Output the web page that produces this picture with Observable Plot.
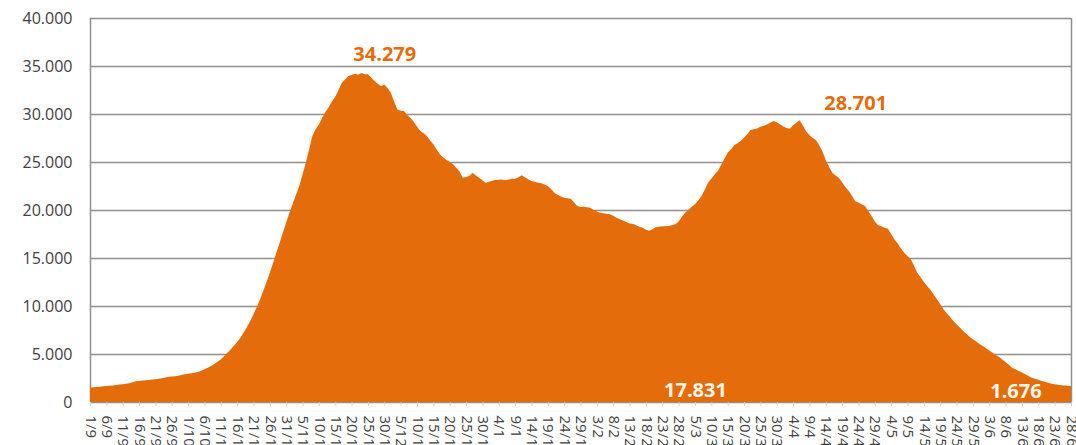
<!DOCTYPE html>
<html>
<head>
<meta charset="utf-8">
<script src="https://cdn.jsdelivr.net/npm/d3@7"></script>
<script src="https://cdn.jsdelivr.net/npm/@observablehq/plot@0.6"></script>
<style>
  html, body { margin: 0; padding: 0; background: #ffffff; }
  #chart svg { display: block; }
</style>
</head>
<body>
<div id="chart"></div>
<script>
// Daily values, 1/9 .. 28/6 (one value per day)
const values = [
  1490, 1530, 1570, 1600, 1630, 1660, 1700, 1730, 1770, 1810,
  1850, 1900, 1960, 2050, 2150, 2200, 2240, 2270, 2300, 2340,
  2370, 2420, 2480, 2560, 2620, 2650, 2680, 2730, 2800, 2880,
  2950, 2990, 3040, 3120, 3250, 3400, 3560, 3740, 3960, 4200,
  4440, 4780, 5120, 5480, 5850, 6250, 6700, 7250, 7800, 8440,
  9150, 9900, 10690, 11600, 12500, 13470, 14500, 15550, 16600, 17650,
  18700, 19720, 20650, 21600, 22500, 23700, 24930, 26300, 27700, 28400,
  28900, 29600, 30200, 30700, 31300, 31800, 32500, 33260, 33600, 33960,
  34050, 34200, 34100, 34279, 34150, 34130, 33800, 33440, 33150, 32900,
  33080, 32700, 32220, 31300, 30480, 30350, 30300, 29900, 29620, 29200,
  28700, 28230, 28000, 27700, 27250, 26840, 26300, 25800, 25500, 25200,
  25000, 24800, 24410, 24000, 23370, 23450, 23540, 23890, 23600, 23370,
  23100, 22850, 22950, 23050, 23120, 23150, 23190, 23100, 23190, 23250,
  23260, 23400, 23610, 23400, 23200, 23020, 22950, 22850, 22780, 22650,
  22500, 22200, 21800, 21600, 21400, 21280, 21230, 21180, 20800, 20420,
  20300, 20350, 20280, 20240, 20000, 19850, 19720, 19650, 19600, 19550,
  19400, 19200, 19030, 18900, 18750, 18600, 18580, 18400, 18250, 18160,
  17950, 17831, 18000, 18200, 18260, 18300, 18320, 18330, 18400, 18510,
  18800, 19300, 19720, 20000, 20350, 20590, 21000, 21460, 22100, 22850,
  23250, 23700, 24060, 24700, 25350, 25970, 26300, 26740, 26950, 27200,
  27530, 27900, 28330, 28400, 28500, 28680, 28750, 28900, 29100, 29270,
  29150, 28920, 28700, 28550, 28470, 28820, 29100, 29340, 28800, 28200,
  27800, 27500, 27300, 26740, 26100, 25200, 24500, 23890, 23600, 23370,
  22900, 22400, 22000, 21500, 20900, 20770, 20600, 20420, 19900, 19370,
  18800, 18400, 18300, 18150, 18050, 17500, 16940, 16500, 16000, 15550,
  15200, 14860, 14200, 13470, 13000, 12500, 12080, 11700, 11210, 10700,
  10200, 9650, 9250, 8850, 8440, 8100, 7750, 7400, 7100, 6800,
  6530, 6300, 6050, 5830, 5600, 5370, 5140, 4900, 4680, 4440,
  4150, 3870, 3580, 3400, 3230, 3060, 2880, 2700, 2530, 2420,
  2310, 2190, 2100, 2000, 1910, 1860, 1800, 1740, 1710, 1690,
  1676
];

// Category tick labels (every 5th day)
const tickLabels = [
  "1/9","6/9","11/9","16/9","21/9","26/9","1/10","6/10","11/10","16/10",
  "21/10","26/10","31/10","5/11","10/11","15/11","20/11","25/11","30/11","5/12",
  "10/12","15/12","20/12","25/12","30/12","4/1","9/1","14/1","19/1","24/1",
  "29/1","3/2","8/2","13/2","18/2","23/2","28/2","5/3","10/3","15/3",
  "20/3","25/3","30/3","4/4","9/4","14/4","19/4","24/4","29/4","4/5",
  "9/5","14/5","19/5","24/5","29/5","3/6","8/6","13/6","18/6","23/6",
  "28/6"
];
const tickStep = 5;

// Value axis ticks
const yTicks = [0, 5000, 10000, 15000, 20000, 25000, 30000, 35000, 40000];

// Annotation texts
const annTexts = ["34.279", "28.701", "17.831", "1.676"];

// ---- build ----
const rows = values.map((v, i) => ({i, v}));
const tickPos = tickLabels.map((_, k) => k * tickStep);
const fmtY = d => d3.format(",")(d).replace(/,/g, ".");

const annotations = [
  {i: 90,  v: 36250, text: annTexts[0], fill: "#E46C0A"},
  {i: 234, v: 31100, text: annTexts[1], fill: "#E46C0A"},
  {i: 185, v: 1250,  text: annTexts[2], fill: "#FFF6EC"},
  {i: 283, v: 1150,  text: annTexts[3], fill: "#FFF6EC"}
];

const chart = Plot.plot({
  width: 1076,
  height: 445,
  marginLeft: 90,
  marginRight: 5,
  marginTop: 18,
  marginBottom: 43,
  style: {fontFamily: "'Open Sans', sans-serif", fontSize: "16px", color: "#404040", background: "#ffffff"},
  x: {domain: [0, values.length - 1]},
  y: {domain: [0, 40000]},
  marks: [
    Plot.ruleY(yTicks, {stroke: "#8f8f8f", strokeWidth: 1.5}),
    Plot.ruleX([0, values.length - 1], {stroke: "#8f8f8f", strokeWidth: 1.5}),
    Plot.areaY(rows, {x: "i", y: "v", fill: "#E46C0A"}),
    Plot.axisY({ticks: yTicks, tickFormat: fmtY, tickSize: 0, tickPadding: 18, fontSize: 16, fill: "#404040", label: null}),
    Plot.axisX({
      ticks: tickPos,
      tickFormat: d => tickLabels[Math.round(d / tickStep)],
      tickRotate: 90,
      tickSize: 4,
      tickPadding: 9,
      stroke: "#d0d0d0",
      fontSize: 15,
      fill: "#404040",
      label: null
    }),
    Plot.text(annotations, {x: "i", y: "v", text: "text", fill: "fill", fontWeight: "bold", fontSize: 20})
  ]
});

document.getElementById("chart").appendChild(chart);
</script>
</body>
</html>
